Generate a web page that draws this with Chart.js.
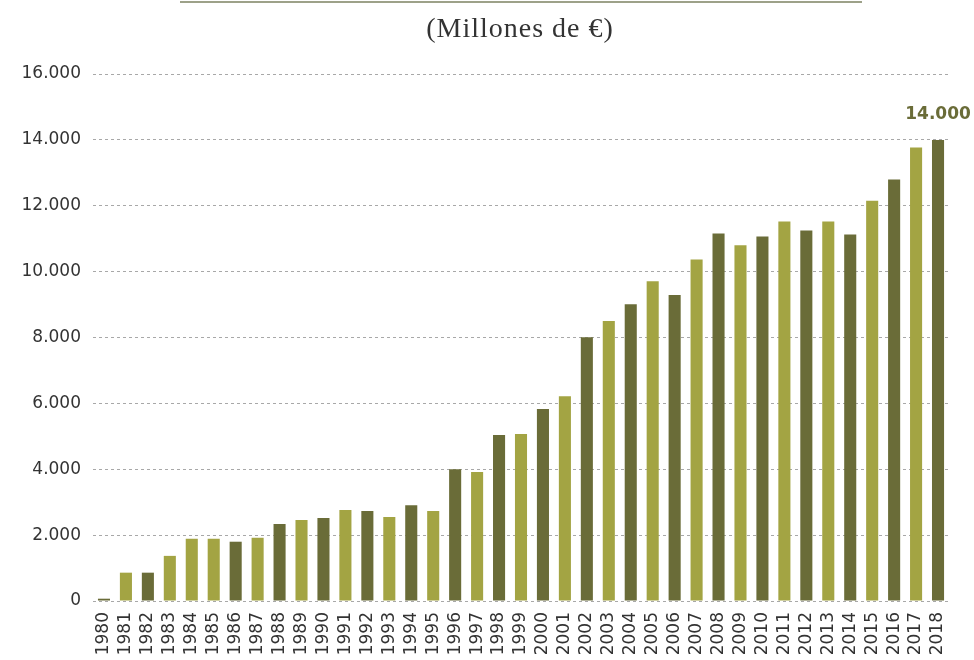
<!DOCTYPE html>
<html>
<head>
<meta charset="utf-8">
<title>Millones de €</title>
<script src="https://cdn.jsdelivr.net/npm/chart.js@4.4.0/dist/chart.umd.min.js"></script>
<style>
  html, body { margin: 0; padding: 0; background: #fff; }
  #wrap { width: 974px; height: 660px; }
</style>
</head>
<body>
<div id="wrap"><canvas id="myChart" width="974" height="660"></canvas></div>
<script>
// datos (millones de euros)
const years = ['1980','1981','1982','1983','1984','1985','1986','1987','1988','1989',
  '1990','1991','1992','1993','1994','1995','1996','1997','1998','1999',
  '2000','2001','2002','2003','2004','2005','2006','2007','2008','2009',
  '2010','2011','2012','2013','2014','2015','2016','2017','2018'];
const values = [70, 860, 860, 1370, 1890, 1890, 1800, 1920, 2340, 2460,
  2520, 2760, 2730, 2550, 2910, 2730, 4000, 3920, 5040, 5070,
  5830, 6220, 8010, 8500, 9010, 9710, 9290, 10370, 11160, 10800,
  11070, 11520, 11250, 11520, 11130, 12150, 12800, 13770, 14000];
const yTicks = [0, 2000, 4000, 6000, 8000, 10000, 12000, 14000, 16000];
const titleText = '(Millones de €)';

// colores
const dark = '#6a6c38';
const light = '#a3a443';
const barColors = years.map((y, i) => {
  if (y === '1984' || y === '1985') return light;
  return i % 2 === 0 ? dark : light;
});

const fmt = v => String(v).replace(/\B(?=(\d{3})+(?!\d))/g, '.');

const extras = {
  id: 'extras',
  beforeDraw(chart) {
    const ctx = chart.ctx;
    ctx.save();
    ctx.fillStyle = '#fff';
    ctx.fillRect(0, 0, chart.width, chart.height);
    // linea superior
    ctx.strokeStyle = '#9da189';
    ctx.lineWidth = 2;
    ctx.beginPath();
    ctx.moveTo(180, 2);
    ctx.lineTo(862, 2);
    ctx.stroke();
    // titulo
    ctx.fillStyle = '#333';
    ctx.font = '28px "Liberation Serif"';
    ctx.letterSpacing = '1px';
    ctx.textAlign = 'center';
    ctx.textBaseline = 'alphabetic';
    ctx.fillText(titleText, 520, 37);
    ctx.restore();
  },
  afterDatasetsDraw(chart) {
    const ctx = chart.ctx;
    const last = values.length - 1;
    const x = chart.scales.x.getPixelForValue(last);
    const y = chart.scales.y.getPixelForValue(values[last]);
    ctx.save();
    ctx.fillStyle = dark;
    ctx.font = 'bold 17px "DejaVu Sans"';
    ctx.textAlign = 'center';
    ctx.textBaseline = 'middle';
    ctx.fillText(fmt(values[last]), x, y - 25);
    ctx.restore();
  }
};

const chart = new Chart(document.querySelector('#myChart').getContext('2d'), {
  type: 'bar',
  data: {
    labels: years,
    datasets: [{
      data: values,
      backgroundColor: barColors,
      borderWidth: 0,
      barPercentage: 0.55,
      categoryPercentage: 1
    }]
  },
  options: {
    responsive: false,
    animation: false,
    devicePixelRatio: 1,
    layout: { padding: { top: 74, right: 25, left: 0, bottom: 0 } },
    plugins: {
      legend: { display: false },
      tooltip: { enabled: false }
    },
    scales: {
      x: {
        grid: { display: false, drawTicks: false },
        border: { display: false },
        afterFit: s => { s.height = 59; },
        ticks: {
          autoSkip: false,
          minRotation: 90,
          maxRotation: 90,
          padding: 11,
          color: '#333',
          font: { family: 'DejaVu Sans', size: 17 }
        }
      },
      y: {
        min: 0,
        max: 16000,
        afterFit: s => { s.width = 93; },
        afterBuildTicks: s => { s.ticks = yTicks.map(v => ({ value: v })); },
        grid: { color: '#a8a8a8', lineWidth: 1, drawTicks: false },
        border: { display: false, dash: [3, 3] },
        ticks: {
          padding: 12,
          color: '#333',
          font: { family: 'DejaVu Sans', size: 17 },
          callback: v => fmt(v)
        }
      }
    }
  },
  plugins: [extras]
});
</script>
</body>
</html>
